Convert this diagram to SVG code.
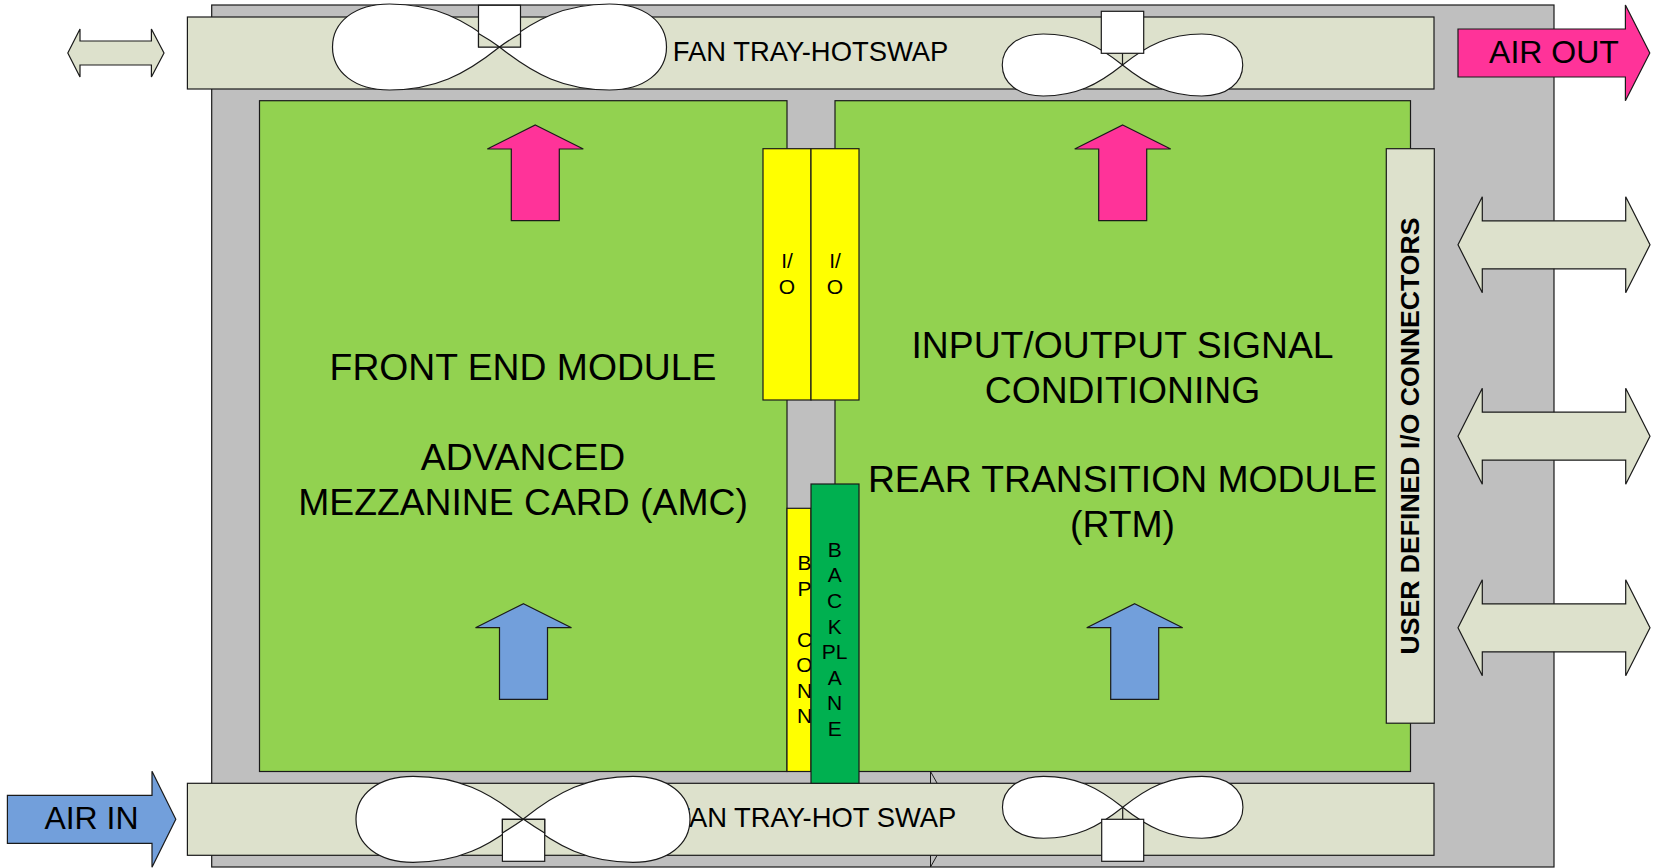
<svg xmlns="http://www.w3.org/2000/svg" width="1655" height="868" viewBox="0 0 1655 868">
<style>
text{font-family:"Liberation Sans",Arial,sans-serif;fill:#000;text-anchor:middle}
.s{stroke:#1a1a1a;stroke-width:1.2}
.chassis{fill:#bfbfbf}.tray{fill:#dde1cc}.card{fill:#92d250}.yel{fill:#ffff00}.bp{fill:#00b050}.pink{fill:#ff3399}.blue{fill:#729fdb}.fan{fill:#fff}
.t38{font-size:37.300px}.t22{font-size:21px}
</style>
<defs>
<path id="lobes" d="M0 0C-35 -28 -65 -43 -110 -43C-145 -43 -167 -25 -167 0C-167 25 -145 43 -110 43C-65 43 -35 28 0 0C35 -28 65 -43 110 -43C145 -43 167 -25 167 0C167 25 145 43 110 43C65 43 35 28 0 0Z"/>
<path id="dbl" d="M0 0L24.300 -48V-24H167.700V-48L192 0L167.700 48V24H24.300V48Z"/>
<path id="up" d="M0 0L48 24H24V95.700H-24V24H-48Z"/>
</defs>
<g id="chassis"><rect class="chassis s" x="211.700" y="5" width="1342.300" height="862"/></g>
<g id="notch" fill="none" stroke="#1a1a1a"><path d="M930.500 771.500V867M930.500 771.500L937 783M930.500 867L937 855.500"/></g>
<g id="amc"><rect class="card s" x="259.500" y="100.700" width="527.500" height="670.800"/></g>
<g id="rtm"><rect class="card s" x="835" y="100.700" width="575.500" height="670.800"/></g>
<g id="tray-top"><rect class="tray s" x="187.400" y="17" width="1246.600" height="72"/>
<text x="810.600" y="61" font-size="27.400">FAN TRAY-HOTSWAP</text></g>
<g id="tray-bottom"><rect class="tray s" x="187.400" y="783.300" width="1246.600" height="72"/>
<text x="815" y="827" font-size="27.400">FAN TRAY-HOT SWAP</text></g>
<g id="fan-top-1"><use href="#lobes" class="fan s" x="499.500" y="47"/><rect class="fan s" x="478.500" y="5.300" width="42" height="41.700"/><path class="tray" d="M478.500 33.500Q490 40 499.500 47Q509 40 520.500 33.500V47H478.500Z"/><path class="s" fill="none" d="M478.500 33.500Q490 40 499.500 47Q509 40 520.500 33.500M478.500 33.500V47H520.500V33.500"/></g>
<g id="fan-top-2"><use href="#lobes" class="fan s" transform="translate(1122.500 65) scale(.72)" style="stroke-width:1.600"/><rect class="fan s" x="1101.300" y="11.300" width="42.400" height="42"/><path class="s" d="M1122.500 53.300V65"/></g>
<g id="fan-bottom-1"><use href="#lobes" class="fan s" x="523" y="819.300"/><rect class="fan s" x="502.400" y="819.300" width="42.300" height="42"/><path class="tray" d="M502.400 819.300H544.700V833Q533 826 523.500 819.300Q514 826 502.400 833Z"/><path class="s" fill="none" d="M502.400 833V819.300H544.700V833Q533 826 523.500 819.300Q514 826 502.400 833"/></g>
<g id="fan-bottom-2"><use href="#lobes" class="fan s" transform="translate(1122.700 807.300) scale(.72)" style="stroke-width:1.600"/><rect class="fan s" x="1101.700" y="819.300" width="42" height="42"/><path class="s" d="M1122.700 807.300V819.300"/></g>
<g id="io-left"><rect class="yel s" x="763" y="148.700" width="48" height="251.300"/>
<text class="t22" x="787" y="268">I/</text><text class="t22" x="787" y="294">O</text></g>
<g id="io-right"><rect class="yel s" x="811" y="148.700" width="48" height="251.300"/>
<text class="t22" x="835" y="268">I/</text><text class="t22" x="835" y="294">O</text></g>
<g id="bp-conn"><rect class="yel s" x="787" y="508.300" width="24" height="263.200"/>
<g class="t22"><text x="804.500" y="570">B</text><text x="804.500" y="595.500">P</text><text x="804.500" y="646.500">C</text><text x="804.500" y="672">O</text><text x="804.500" y="697.500">N</text><text x="804.500" y="723">N</text></g></g>
<g id="backplane"><rect class="bp s" x="811" y="484" width="48" height="299.300"/>
<g class="t22"><text x="834.700" y="556.700">B</text><text x="834.700" y="582.300">A</text><text x="834.700" y="607.900">C</text><text x="834.700" y="633.500">K</text><text x="834.700" y="659">PL</text><text x="834.700" y="684.600">A</text><text x="834.700" y="710.200">N</text><text x="834.700" y="735.700">E</text></g></g>
<g id="amc-text" class="t38"><text x="523" y="380">FRONT END MODULE</text><text x="523" y="470">ADVANCED</text><text x="523" y="515">MEZZANINE CARD (AMC)</text></g>
<g id="rtm-text" class="t38"><text x="1122.500" y="358">INPUT/OUTPUT SIGNAL</text><text x="1122.500" y="403">CONDITIONING</text><text x="1122.500" y="492">REAR TRANSITION MODULE</text><text x="1122.500" y="537">(RTM)</text></g>
<g id="user-io"><rect class="tray s" x="1386.300" y="148.700" width="48" height="574.500"/>
<text transform="translate(1419 436) rotate(-90)" font-size="26.600" font-weight="bold">USER DEFINED I/O CONNECTORS</text></g>
<g id="connectors">
<use href="#up" class="pink s" x="535.300" y="125"/>
<use href="#up" class="pink s" x="1122.700" y="125"/>
<use href="#up" class="blue s" x="523.500" y="603.700"/>
<use href="#up" class="blue s" x="1134.700" y="603.700"/>
<path class="tray s" d="M67.800 53L80 29V41H151.400V29L164 53L151.400 77V65H80V77Z"/>
<use href="#dbl" class="tray s" x="1458" y="244.800"/>
<use href="#dbl" class="tray s" x="1458" y="436.200"/>
<use href="#dbl" class="tray s" x="1458" y="627.800"/>
<path class="pink s" d="M1458 29H1625.400V5L1649.800 53L1625.400 100.700V77H1458Z"/>
<path class="blue s" d="M7.400 795.300H152V771.300L175.800 819.300L152 867.300V843.300H7.400Z"/>
</g>
<text x="1554" y="63" font-size="32">AIR OUT</text>
<text x="91.500" y="829" font-size="32">AIR IN</text>
</svg>
